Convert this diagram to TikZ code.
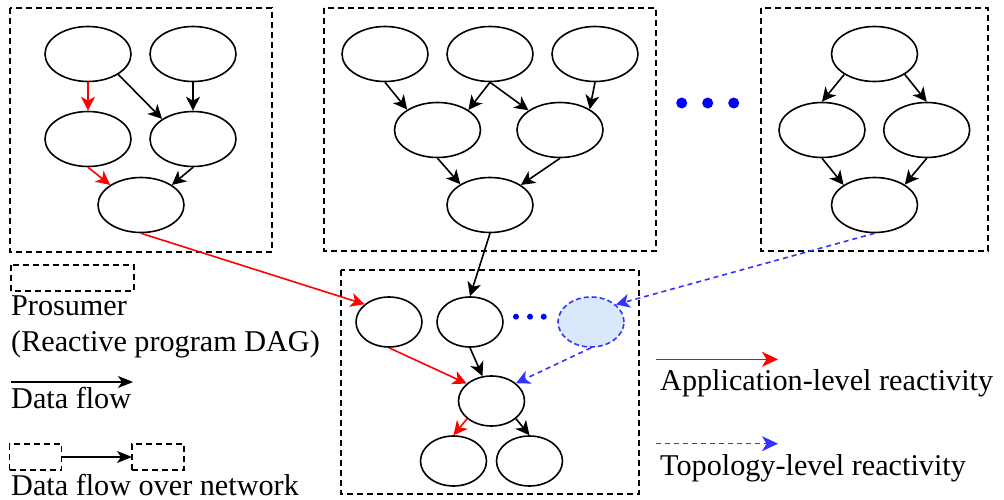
\documentclass[tikz,border=0pt]{standalone}
\usepackage{fontspec}
\setmainfont{Liberation Serif}
\usetikzlibrary{shapes.geometric,arrows.meta}
\definecolor{netblue}{HTML}{3333FF}
\definecolor{dotblue}{HTML}{0000FF}
\definecolor{cloudfill}{HTML}{DAE8FC}
\begin{document}
\begin{tikzpicture}[x=1pt,y=-1pt,
  op/.style={ellipse,draw,line width=1.6pt,minimum width=86pt,minimum height=55pt,inner sep=0pt},
  sop/.style={ellipse,draw,line width=1.6pt,minimum width=66pt,minimum height=50pt,inner sep=0pt},
  prosumer/.style={draw,line width=1.5pt,dash pattern=on 6pt off 4pt},
  flow/.style={line width=1.6pt,-{Stealth[length=14pt,width=14pt,inset=4pt]}},
  app/.style={flow,red},
  topo/.style={flow,netblue,dash pattern=on 5pt off 4pt},
  thinflow/.style={line width=1.5pt,-{Stealth[length=15pt,width=12pt,inset=4pt]}},
  keyflow/.style={line width=1.3pt,-{Stealth[length=16pt,width=15pt,inset=4.5pt]}},
  lbl/.style={anchor=base west,inner sep=0pt,font=\fontsize{30.2}{35}\selectfont},
]
\useasboundingbox (0,0) rectangle (1004,500);

% prosumer boundaries
\draw[prosumer] (10,8) rectangle (272,252);
\draw[prosumer] (324,8) rectangle (656,251);
\draw[prosumer] (761,8) rectangle (988,251);
\draw[prosumer] (341,270) rectangle (639,494);

% first prosumer
\node[op] (a1) at (88,54) {};
\node[op] (a2) at (193,54) {};
\node[op] (a3) at (88,139) {};
\node[op] (a4) at (193,139) {};
\node[op] (a5) at (141,205) {};
\draw[app] (a1.south) -- (a3.north);
\draw[flow] (a1.-34) -- (a4.147);
\draw[flow] (a2.south) -- (a4.north);
\draw[app] (a3.south) -- (a5.147);
\draw[flow] (a4.south) -- (a5.33);

% second prosumer
\node[op] (b1) at (385,54) {};
\node[op] (b2) at (490,54) {};
\node[op] (b3) at (595,54) {};
\node[op] (b4) at (437.5,130) {};
\node[op] (b5) at (560,130) {};
\node[op] (b6) at (490,205) {};
\draw[flow] (b1.south) -- (b4.146);
\draw[flow] (b2.south) -- (b4.33);
\draw[flow] (b2.south) -- (b5.148);
\draw[flow] (b3.south) -- (b5.35);
\draw[flow] (b4.south) -- (b6.145);
\draw[flow] (b5.south) -- (b6.33);

% further prosumers
\fill[dotblue] (681.7,103) circle (5.5pt);
\fill[dotblue] (707.7,103) circle (5.5pt);
\fill[dotblue] (733.7,103) circle (5.5pt);

% third prosumer
\node[op] (c1) at (874.5,54) {};
\node[op] (c2) at (822,130) {};
\node[op] (c3) at (926.7,130) {};
\node[op] (c4) at (874.5,205) {};
\draw[flow] (c1.-146) -- (c2.north);
\draw[flow] (c1.-34) -- (c3.north);
\draw[flow] (c2.south) -- (c4.147);
\draw[flow] (c3.south) -- (c4.34);

% consuming prosumer
\node[sop] (d1) at (389,322) {};
\node[sop] (d2) at (470,322) {};
\node[sop,draw=netblue,fill=cloudfill,dash pattern=on 5pt off 3pt] (d3) at (591,322) {};
\node[sop] (d4) at (491.5,401) {};
\node[sop] (d5) at (453.5,461) {};
\node[sop] (d6) at (529.5,461) {};
\fill[dotblue] (516,316.7) circle (3pt);
\fill[dotblue] (530,316.7) circle (3pt);
\fill[dotblue] (543.7,316.7) circle (3pt);
\draw[app] (d1.south) -- (d4.145);
\draw[flow] (d2.south) -- (d4.110);
\draw[topo] (d3.south) -- (d4.36);
\draw[app] (d4.-144) -- (d5.north);
\draw[flow] (d4.-36) -- (d6.north);

% flows across the network
\draw[app] (a5.south) -- (d1.144);
\draw[flow] (b6.south) -- (d2.north);
\draw[topo] (c4.south) -- (d3.35);

% legend, left
\draw[prosumer] (11,265) rectangle (134,291);
\node[lbl] (tpro) at (11,315) {Prosumer};
\node[lbl] (tdag) at (11,351.5) {(Reactive program DAG)};
\coordinate (df1) at (11,382);
\coordinate (df2) at (133,382);
\draw[thinflow] (df1) -- (df2);
\node[lbl] (tdf) at (11,408.5) {Data flow};
\node[prosumer,minimum width=52pt,minimum height=26pt,inner sep=0pt,outer sep=0pt] (na) at (35.5,457) {};
\node[prosumer,minimum width=52pt,minimum height=26pt,inner sep=0pt,outer sep=0pt] (nb) at (158,457) {};
\draw[thinflow] (na.east) -- (nb.west);
\node[lbl] (tnet) at (11,495) {Data flow over network};

% legend, right
\coordinate (ap1) at (656,359.3);
\coordinate (ap2) at (778,359.3);
\draw[keyflow,red] (ap1) -- (ap2);
\node[lbl] (tapp) at (660,390) {Application-level reactivity};
\coordinate (tp1) at (656,443.7);
\coordinate (tp2) at (778,443.7);
\draw[keyflow,netblue,dash pattern=on 5pt off 4pt] (tp1) -- (tp2);
\node[lbl] (ttop) at (660,475) {Topology-level reactivity};
\end{tikzpicture}
\end{document}
